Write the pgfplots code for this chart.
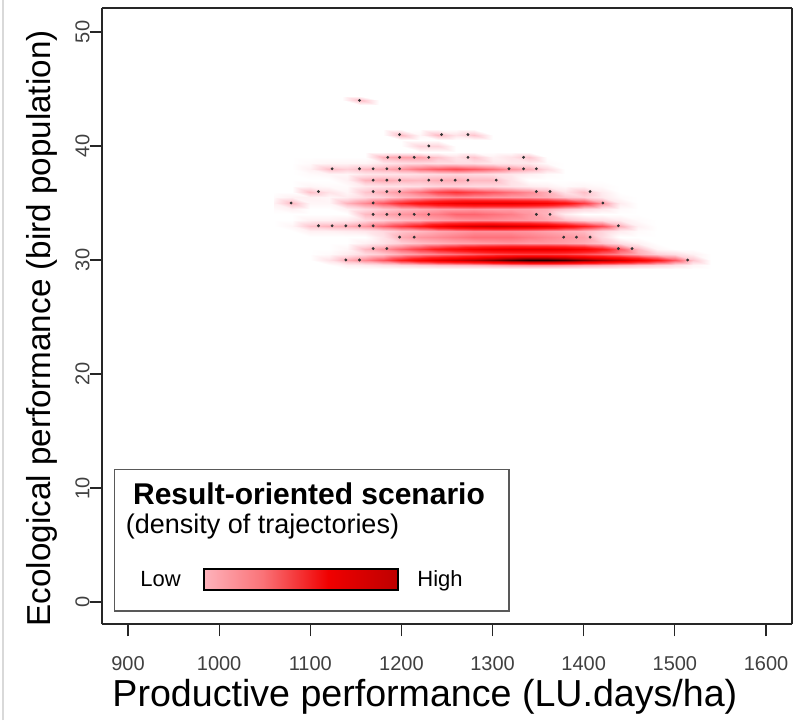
\documentclass[border=0pt]{standalone}
\usepackage{fontspec}
\setmainfont{Liberation Sans}
\usepackage{pgfplots}
\pgfplotsset{compat=1.18}

\definecolor{lh0}{RGB}{255,232,238}
\definecolor{lh1}{RGB}{255,200,210}
\definecolor{lh2}{RGB}{250,115,120}
\definecolor{lh3}{RGB}{240,0,0}
\definecolor{lh4}{RGB}{190,0,0}
\definecolor{lh5}{RGB}{120,0,0}
\definecolor{lh6}{RGB}{135,0,0}
\pgfdeclarehorizontalshading{lowhigh}{100bp}{color(0bp)=(lh0); color(20bp)=(lh1); color(40bp)=(lh2); color(57bp)=(lh3); color(75bp)=(lh4); color(90bp)=(lh5); color(100bp)=(lh6)}

\begin{document}
\begin{tikzpicture}
\begin{axis}[
    name=ax,
    scale only axis,
    width=345pt, height=308pt,
    view={0}{90},
    xmin=871.5, xmax=1628.5,
    ymin=-1.93, ymax=52.1,
    xtick={900,1000,...,1600},
    ytick={0,10,...,50},
    tick pos=left,
    tick align=outside,
    major tick length=6pt,
    every tick/.style={black!85, line width=0.6pt},
    axis line style={black!85, line width=0.7pt},
    /pgf/number format/1000 sep={},
    /pgf/number format/assume math mode=true,
    ticklabel style={font=\fontsize{10}{12}\selectfont, text=black!75},
    xticklabel style={inner sep=0pt, anchor=north, yshift=-10pt},
    yticklabel style={inner sep=0pt, rotate=90, anchor=south},
    xlabel={Productive performance (LU.days/ha)},
    ylabel={Ecological performance (bird population)},
    xlabel style={font=\fontsize{18.8}{22}\selectfont, at={(axis description cs:0.468,-0.1331)}, anchor=base},
    ylabel style={font=\fontsize{16.6}{20}\selectfont, at={(axis description cs:-0.074,0.48)}, anchor=base},
    colormap={reds}{rgb255(0cm)=(255,255,255) rgb255(0.1cm)=(255,208,216) rgb255(0.2cm)=(255,150,160) rgb255(0.3cm)=(255,88,98) rgb255(0.42cm)=(255,30,30) rgb255(0.55cm)=(250,0,0) rgb255(0.68cm)=(200,0,0) rgb255(0.8cm)=(130,0,0) rgb255(0.94cm)=(35,0,0) rgb255(1cm)=(20,0,0)},
    point meta min=0, point meta max=1,
]

% density of trajectories: one band per bird count
\addplot3[surf, shader=interp, mesh/cols=25] coordinates {
(1060,29.2,0) (1080,29.2,0) (1100,29.2,0) (1120,29.2,0) (1140,29.2,0) (1160,29.2,0) (1180,29.2,0) (1200,29.2,0) (1220,29.2,0) (1240,29.2,0) (1260,29.2,0) (1280,29.2,0) (1300,29.2,0) (1320,29.2,0) (1340,29.2,0) (1360,29.2,0) (1380,29.2,0) (1400,29.2,0) (1420,29.2,0) (1440,29.2,0) (1460,29.2,0) (1480,29.2,0) (1500,29.2,0) (1520,29.2,0) (1540,29.2,0)
(1060,29.55,0) (1080,29.55,0) (1100,29.55,0) (1120,29.55,0) (1140,29.55,.03) (1160,29.55,.04) (1180,29.55,.06) (1200,29.55,.08) (1220,29.55,.10) (1240,29.55,.12) (1260,29.55,.13) (1280,29.55,.14) (1300,29.55,.16) (1320,29.55,.18) (1340,29.55,.19) (1360,29.55,.19) (1380,29.55,.18) (1400,29.55,.16) (1420,29.55,.15) (1440,29.55,.13) (1460,29.55,.11) (1480,29.55,.09) (1500,29.55,.06) (1520,29.55,.02) (1540,29.55,0)
(1060,30,0) (1080,30,0) (1100,30,0) (1120,30,.06) (1140,30,.16) (1160,30,.22) (1180,30,.30) (1200,30,.42) (1220,30,.52) (1240,30,.60) (1260,30,.66) (1280,30,.72) (1300,30,.80) (1320,30,.88) (1340,30,.94) (1360,30,.94) (1380,30,.90) (1400,30,.82) (1420,30,.74) (1440,30,.66) (1460,30,.56) (1480,30,.44) (1500,30,.30) (1520,30,.12) (1540,30,0)
(1060,30.5,0) (1080,30.5,0) (1100,30.5,0) (1120,30.5,.01) (1140,30.5,.04) (1160,30.5,.08) (1180,30.5,.11) (1200,30.5,.16) (1220,30.5,.20) (1240,30.5,.23) (1260,30.5,.26) (1280,30.5,.29) (1300,30.5,.32) (1320,30.5,.34) (1340,30.5,.35) (1360,30.5,.35) (1380,30.5,.34) (1400,30.5,.31) (1420,30.5,.27) (1440,30.5,.22) (1460,30.5,.16) (1480,30.5,.10) (1500,30.5,.07) (1520,30.5,.03) (1540,30.5,0)
(1060,31,0) (1080,31,0) (1100,31,0) (1120,31,0) (1140,31,.02) (1160,31,.14) (1180,31,.20) (1200,31,.28) (1220,31,.36) (1240,31,.44) (1260,31,.50) (1280,31,.56) (1300,31,.60) (1320,31,.62) (1340,31,.62) (1360,31,.62) (1380,31,.60) (1400,31,.55) (1420,31,.45) (1440,31,.30) (1460,31,.14) (1480,31,.02) (1500,31,0) (1520,31,0) (1540,31,0)
(1060,31.5,0) (1080,31.5,0) (1100,31.5,0) (1120,31.5,0) (1140,31.5,0) (1160,31.5,.03) (1180,31.5,.06) (1200,31.5,.10) (1220,31.5,.13) (1240,31.5,.15) (1260,31.5,.17) (1280,31.5,.18) (1300,31.5,.19) (1320,31.5,.20) (1340,31.5,.19) (1360,31.5,.19) (1380,31.5,.18) (1400,31.5,.16) (1420,31.5,.12) (1440,31.5,.07) (1460,31.5,.03) (1480,31.5,0) (1500,31.5,0) (1520,31.5,0) (1540,31.5,0)
(1060,32,0) (1080,32,0) (1100,32,0) (1120,32,0) (1140,32,0) (1160,32,0) (1180,32,.06) (1200,32,.16) (1220,32,.20) (1240,32,.22) (1260,32,.24) (1280,32,.26) (1300,32,.26) (1320,32,.26) (1340,32,.24) (1360,32,.22) (1380,32,.20) (1400,32,.18) (1420,32,.08) (1440,32,0) (1460,32,0) (1480,32,0) (1500,32,0) (1520,32,0) (1540,32,0)
(1060,32.5,0) (1080,32.5,0) (1100,32.5,.03) (1120,32.5,.03) (1140,32.5,.04) (1160,32.5,.05) (1180,32.5,.08) (1200,32.5,.12) (1220,32.5,.14) (1240,32.5,.17) (1260,32.5,.19) (1280,32.5,.21) (1300,32.5,.21) (1320,32.5,.21) (1340,32.5,.20) (1360,32.5,.18) (1380,32.5,.16) (1400,32.5,.14) (1420,32.5,.09) (1440,32.5,.04) (1460,32.5,.01) (1480,32.5,0) (1500,32.5,0) (1520,32.5,0) (1540,32.5,0)
(1060,33,0) (1080,33,.02) (1100,33,.12) (1120,33,.15) (1140,33,.16) (1160,33,.20) (1180,33,.28) (1200,33,.36) (1220,33,.44) (1240,33,.55) (1260,33,.62) (1280,33,.66) (1300,33,.68) (1320,33,.66) (1340,33,.64) (1360,33,.60) (1380,33,.52) (1400,33,.42) (1420,33,.32) (1440,33,.16) (1460,33,.03) (1480,33,0) (1500,33,0) (1520,33,0) (1540,33,0)
(1060,33.5,0) (1080,33.5,0) (1100,33.5,.03) (1120,33.5,.03) (1140,33.5,.04) (1160,33.5,.08) (1180,33.5,.10) (1200,33.5,.13) (1220,33.5,.15) (1240,33.5,.18) (1260,33.5,.20) (1280,33.5,.21) (1300,33.5,.21) (1320,33.5,.20) (1340,33.5,.19) (1360,33.5,.17) (1380,33.5,.13) (1400,33.5,.09) (1420,33.5,.07) (1440,33.5,.04) (1460,33.5,.01) (1480,33.5,0) (1500,33.5,0) (1520,33.5,0) (1540,33.5,0)
(1060,34,0) (1080,34,0) (1100,34,0) (1120,34,0) (1140,34,0) (1160,34,.14) (1180,34,.17) (1200,34,.20) (1220,34,.22) (1240,34,.24) (1260,34,.28) (1280,34,.28) (1300,34,.26) (1320,34,.24) (1340,34,.20) (1360,34,.15) (1380,34,.04) (1400,34,0) (1420,34,0) (1440,34,0) (1460,34,0) (1480,34,0) (1500,34,0) (1520,34,0) (1540,34,0)
(1060,34.5,.01) (1080,34.5,.03) (1100,34.5,0) (1120,34.5,0) (1140,34.5,.03) (1160,34.5,.08) (1180,34.5,.11) (1200,34.5,.14) (1220,34.5,.16) (1240,34.5,.18) (1260,34.5,.19) (1280,34.5,.20) (1300,34.5,.19) (1320,34.5,.19) (1340,34.5,.18) (1360,34.5,.16) (1380,34.5,.12) (1400,34.5,.08) (1420,34.5,.05) (1440,34.5,.01) (1460,34.5,0) (1480,34.5,0) (1500,34.5,0) (1520,34.5,0) (1540,34.5,0)
(1060,35,.03) (1080,35,.14) (1100,35,.02) (1120,35,.02) (1140,35,.15) (1160,35,.22) (1180,35,.30) (1200,35,.40) (1220,35,.48) (1240,35,.54) (1260,35,.58) (1280,35,.60) (1300,35,.60) (1320,35,.60) (1340,35,.58) (1360,35,.55) (1380,35,.48) (1400,35,.36) (1420,35,.20) (1440,35,.04) (1460,35,0) (1480,35,0) (1500,35,0) (1520,35,0) (1540,35,0)
(1060,35.5,.01) (1080,35.5,.03) (1100,35.5,.03) (1120,35.5,.02) (1140,35.5,.04) (1160,35.5,.08) (1180,35.5,.10) (1200,35.5,.14) (1220,35.5,.17) (1240,35.5,.20) (1260,35.5,.22) (1280,35.5,.21) (1300,35.5,.20) (1320,35.5,.19) (1340,35.5,.18) (1360,35.5,.16) (1380,35.5,.12) (1400,35.5,.10) (1420,35.5,.05) (1440,35.5,.01) (1460,35.5,0) (1480,35.5,0) (1500,35.5,0) (1520,35.5,0) (1540,35.5,0)
(1060,36,0) (1080,36,0) (1100,36,.13) (1120,36,.06) (1140,36,.02) (1160,36,.12) (1180,36,.16) (1200,36,.20) (1220,36,.26) (1240,36,.34) (1260,36,.38) (1280,36,.34) (1300,36,.30) (1320,36,.26) (1340,36,.22) (1360,36,.16) (1380,36,.06) (1400,36,.13) (1420,36,.04) (1440,36,0) (1460,36,0) (1480,36,0) (1500,36,0) (1520,36,0) (1540,36,0)
(1060,36.5,0) (1080,36.5,0) (1100,36.5,.02) (1120,36.5,.01) (1140,36.5,.01) (1160,36.5,.05) (1180,36.5,.06) (1200,36.5,.06) (1220,36.5,.07) (1240,36.5,.09) (1260,36.5,.09) (1280,36.5,.08) (1300,36.5,.08) (1320,36.5,.06) (1340,36.5,.04) (1360,36.5,.03) (1380,36.5,.01) (1400,36.5,.02) (1420,36.5,.01) (1440,36.5,0) (1460,36.5,0) (1480,36.5,0) (1500,36.5,0) (1520,36.5,0) (1540,36.5,0)
(1060,37,0) (1080,37,0) (1100,37,0) (1120,37,0) (1140,37,.03) (1160,37,.15) (1180,37,.17) (1200,37,.15) (1220,37,.14) (1240,37,.16) (1260,37,.16) (1280,37,.14) (1300,37,.14) (1320,37,.06) (1340,37,0) (1360,37,0) (1380,37,0) (1400,37,0) (1420,37,0) (1440,37,0) (1460,37,0) (1480,37,0) (1500,37,0) (1520,37,0) (1540,37,0)
(1060,37.5,0) (1080,37.5,0) (1100,37.5,.01) (1120,37.5,.02) (1140,37.5,.02) (1160,37.5,.05) (1180,37.5,.06) (1200,37.5,.06) (1220,37.5,.07) (1240,37.5,.08) (1260,37.5,.09) (1280,37.5,.08) (1300,37.5,.07) (1320,37.5,.05) (1340,37.5,.03) (1360,37.5,.01) (1380,37.5,0) (1400,37.5,0) (1420,37.5,0) (1440,37.5,0) (1460,37.5,0) (1480,37.5,0) (1500,37.5,0) (1520,37.5,0) (1540,37.5,0)
(1060,38,0) (1080,38,0) (1100,38,.03) (1120,38,.13) (1140,38,.10) (1160,38,.14) (1180,38,.16) (1200,38,.20) (1220,38,.26) (1240,38,.30) (1260,38,.33) (1280,38,.30) (1300,38,.26) (1320,38,.20) (1340,38,.16) (1360,38,.08) (1380,38,0) (1400,38,0) (1420,38,0) (1440,38,0) (1460,38,0) (1480,38,0) (1500,38,0) (1520,38,0) (1540,38,0)
(1060,38.5,0) (1080,38.5,0) (1100,38.5,.01) (1120,38.5,.02) (1140,38.5,.02) (1160,38.5,.02) (1180,38.5,.05) (1200,38.5,.07) (1220,38.5,.08) (1240,38.5,.07) (1260,38.5,.07) (1280,38.5,.07) (1300,38.5,.05) (1320,38.5,.05) (1340,38.5,.05) (1360,38.5,.01) (1380,38.5,0) (1400,38.5,0) (1420,38.5,0) (1440,38.5,0) (1460,38.5,0) (1480,38.5,0) (1500,38.5,0) (1520,38.5,0) (1540,38.5,0)
(1060,39,0) (1080,39,0) (1100,39,0) (1120,39,0) (1140,39,0) (1160,39,0) (1180,39,.15) (1200,39,.18) (1220,39,.18) (1240,39,.12) (1260,39,.06) (1280,39,.12) (1300,39,.03) (1320,39,.06) (1340,39,.12) (1360,39,0) (1380,39,0) (1400,39,0) (1420,39,0) (1440,39,0) (1460,39,0) (1480,39,0) (1500,39,0) (1520,39,0) (1540,39,0)
(1060,39.5,0) (1080,39.5,0) (1100,39.5,0) (1120,39.5,0) (1140,39.5,0) (1160,39.5,0) (1180,39.5,0) (1200,39.5,0) (1220,39.5,0) (1240,39.5,0) (1260,39.5,0) (1280,39.5,0) (1300,39.5,0) (1320,39.5,0) (1340,39.5,0) (1360,39.5,0) (1380,39.5,0) (1400,39.5,0) (1420,39.5,0) (1440,39.5,0) (1460,39.5,0) (1480,39.5,0) (1500,39.5,0) (1520,39.5,0) (1540,39.5,0)
(1060,40,0) (1080,40,0) (1100,40,0) (1120,40,0) (1140,40,0) (1160,40,0) (1180,40,0) (1200,40,0) (1220,40,.09) (1240,40,.09) (1260,40,0) (1280,40,0) (1300,40,0) (1320,40,0) (1340,40,0) (1360,40,0) (1380,40,0) (1400,40,0) (1420,40,0) (1440,40,0) (1460,40,0) (1480,40,0) (1500,40,0) (1520,40,0) (1540,40,0)
(1060,40.5,0) (1080,40.5,0) (1100,40.5,0) (1120,40.5,0) (1140,40.5,0) (1160,40.5,0) (1180,40.5,0) (1200,40.5,0) (1220,40.5,0) (1240,40.5,0) (1260,40.5,0) (1280,40.5,0) (1300,40.5,0) (1320,40.5,0) (1340,40.5,0) (1360,40.5,0) (1380,40.5,0) (1400,40.5,0) (1420,40.5,0) (1440,40.5,0) (1460,40.5,0) (1480,40.5,0) (1500,40.5,0) (1520,40.5,0) (1540,40.5,0)
(1060,41,0) (1080,41,0) (1100,41,0) (1120,41,0) (1140,41,0) (1160,41,0) (1180,41,0) (1200,41,.14) (1220,41,.02) (1240,41,.14) (1260,41,.06) (1280,41,.12) (1300,41,0) (1320,41,0) (1340,41,0) (1360,41,0) (1380,41,0) (1400,41,0) (1420,41,0) (1440,41,0) (1460,41,0) (1480,41,0) (1500,41,0) (1520,41,0) (1540,41,0)
(1060,41.5,0) (1080,41.5,0) (1100,41.5,0) (1120,41.5,0) (1140,41.5,0) (1160,41.5,0) (1180,41.5,0) (1200,41.5,0) (1220,41.5,0) (1240,41.5,0) (1260,41.5,0) (1280,41.5,0) (1300,41.5,0) (1320,41.5,0) (1340,41.5,0) (1360,41.5,0) (1380,41.5,0) (1400,41.5,0) (1420,41.5,0) (1440,41.5,0) (1460,41.5,0) (1480,41.5,0) (1500,41.5,0) (1520,41.5,0) (1540,41.5,0)
};

% lone trajectory at 44 birds
\addplot3[surf, shader=interp, mesh/cols=3] coordinates {
(1135,43.6,0) (1155,43.6,0) (1175,43.6,0)
(1135,44,0) (1155,44,.14) (1175,44,0)
(1135,44.4,0) (1155,44.4,0) (1175,44.4,0)
};

% single trajectories (outliers)
\addplot3[only marks, mark=*, mark size=0.5pt, black!80] coordinates {
(1154,44,1)
(1198,41,1) (1244,41,1) (1273,41,1)
(1230,40,1)
(1185,39,1) (1198,39,1) (1214,39,1) (1230,39,1) (1273,39,1) (1334,39,1)
(1124,38,1) (1154,38,1) (1169,38,1) (1184,38,1) (1198,38,1) (1318,38,1) (1334,38,1) (1348,38,1)
(1169,37,1) (1184,37,1) (1198,37,1) (1230,37,1) (1244,37,1) (1259,37,1) (1273,37,1) (1304,37,1)
(1109,36,1) (1169,36,1) (1184,36,1) (1198,36,1) (1348,36,1) (1363,36,1) (1407,36,1)
(1079,35,1) (1169,35,1) (1421,35,1)
(1169,34,1) (1184,34,1) (1198,34,1) (1214,34,1) (1230,34,1) (1348,34,1) (1363,34,1)
(1109,33,1) (1124,33,1) (1139,33,1) (1154,33,1) (1169,33,1) (1438,33,1)
(1198,32,1) (1214,32,1) (1378,32,1) (1392,32,1) (1407,32,1)
(1169,31,1) (1184,31,1) (1438,31,1) (1453,31,1)
(1139,30,1) (1154,30,1) (1514,30,1)
};
\end{axis}

% legend box
\begin{scope}[shift={(ax.south west)}]
  \draw[black!65, line width=0.6pt, fill=white] (6.25pt,6.5pt) rectangle (203.5pt,77.25pt);
  \node[anchor=base, inner sep=0pt, font=\fontsize{15}{18}\selectfont\bfseries] at (103.5pt,60pt) {Result-oriented scenario};
  \node[anchor=base, inner sep=0pt, font=\fontsize{13.5}{16}\selectfont] at (80.25pt,45.5pt) {(density of trajectories)};
  \node[anchor=base, inner sep=0pt, font=\fontsize{11}{13}\selectfont] at (29.25pt,19pt) {Low};
  \shade[shading=lowhigh] (51pt,17pt) rectangle (148pt,27.5pt);
  \draw[black, line width=0.7pt] (51pt,17pt) rectangle (148pt,27.5pt);
  \node[anchor=base west, inner sep=0pt, font=\fontsize{11}{13}\selectfont] at (157.5pt,19pt) {High};
  \draw[black!15, line width=1pt] (-49.5pt,-48pt) -- (-49.5pt,312pt);
\end{scope}

\pgfresetboundingbox
\path[use as bounding box] ([shift={(-51pt,-48pt)}]ax.south west) rectangle ([shift={(6pt,4pt)}]ax.north east);
\end{tikzpicture}
\end{document}
